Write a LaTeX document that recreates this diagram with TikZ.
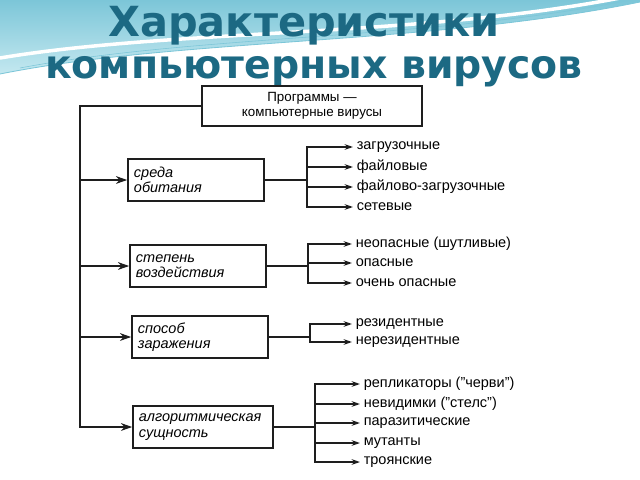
\documentclass[tikz,border=0pt]{standalone}
\usepackage{fontspec}
\setmainfont{Liberation Sans}
\newfontfamily\titlefont{DejaVu Sans}
\usepackage{tikz}
\usetikzlibrary{arrows.meta}
\usetikzlibrary{calc}
\definecolor{c_title}{HTML}{1C6983}
\definecolor{c_wave}{HTML}{C4E8F0}
\definecolor{c_wave_dark}{HTML}{7CC6D8}
\definecolor{c_ink}{HTML}{1E1E1E}

\tikzset{
  titletext/.style={anchor=base, inner sep=0pt, text=c_title, font=\titlefont\bfseries\fontsize{28}{30}\selectfont},
  rootbox/.style={draw=c_ink, line width=1.1pt, minimum width=5.5cm, minimum height=1cm, align=center, inner sep=2pt, font=\fontsize{9.5}{11}\selectfont},
  catbox/.style={draw=c_ink, line width=1.1pt, text width=3.1cm, inner xsep=0.15cm, align=left, minimum height=1.05cm, font=\itshape\fontsize{10.3}{11}\selectfont},
  itemtext/.style={anchor=west, inner xsep=2.5pt, inner ysep=1pt, font=\fontsize{10.3}{12}\selectfont},
  bigarr/.style={draw=c_ink, line width=1.1pt, -{Stealth[length=8pt,width=5.5pt]}},
  smallarr/.style={draw=c_ink, line width=1.1pt, -{Stealth[length=6pt,width=4pt]}}
}

\begin{document}
\begin{tikzpicture}[x=0.025cm,y=-0.025cm]
\useasboundingbox (0,0) rectangle (640,480);

% wave on top
\shade[top color=c_wave_dark, bottom color=c_wave] (0,0) -- (640,0) -- (640,2) .. controls (430,45) and (180,38) .. (0,74) -- cycle;
\draw[white, line width=2.5pt] (0,58) .. controls (180,28) and (430,38) .. (640,-6);
\draw[c_wave_dark, line width=0.6pt] (0,74) .. controls (180,38) and (430,45) .. (640,2);
\draw[c_wave_dark, line width=0.4pt] (20,68) .. controls (200,34) and (440,40) .. (640,-2);

% title
\node[titletext, font=\titlefont\bfseries\fontsize{29.5}{30}\selectfont] (t1) at (304,36) {Характеристики};
\node[titletext] (t2) at (314,78) {компьютерных вирусов};

% boxes
\node[rootbox] (root) at (312,106) {Программы —\\компьютерные вирусы};
\node[catbox] (habitat) at (196,180) {среда\\обитания};
\node[catbox] (impact) at (198,266) {степень\\воздействия};
\node[catbox] (infect) at (200,337) {способ\\заражения};
\node[catbox, text width=3.2cm] (algo) at (203,427) {алгоритмическая\\сущность};

% left spine
\coordinate (spine) at (80,0);
\draw[bigarr] (root.west) -| (spine |- algo.west) -- (algo.west);
\foreach \b in {habitat,impact,infect}
  \draw[bigarr] (spine |- \b.west) -- (\b.west);

% kinds
\foreach \n/\x/\y/\t in {h1/353/147/{загрузочные}, h2/353/167/{файловые}, h3/353/187/{файлово-загрузочные}, h4/353/207/{сетевые},
  d1/352/244/{неопасные (шутливые)}, d2/352/263/{опасные}, d3/352/283/{очень опасные},
  r1/352/324/{резидентные}, r2/352/342/{нерезидентные},
  a1/360/384/{репликаторы ("черви")}, a2/360/404/{невидимки ("стелс")}, a3/360/423/{паразитические}, a4/360/443/{мутанты}, a5/360/462/{троянские}}
  \node[itemtext] (\n) at (\x,\y) {\t};

% branches
\coordinate (bh) at (307,0);
\coordinate (bd) at (308,0);
\coordinate (br) at (310,0);
\coordinate (ba) at (315,0);
\foreach \n in {h1,h2,h3,h4}
  \draw[smallarr] (habitat.east) -- (bh |- habitat.east) |- (\n.west);
\foreach \n in {d1,d2,d3}
  \draw[smallarr] (impact.east) -- (bd |- impact.east) |- (\n.west);
\foreach \n in {r1,r2}
  \draw[smallarr] (infect.east) -- (br |- infect.east) |- (\n.west);
\foreach \n in {a1,a2,a3,a4,a5}
  \draw[smallarr] (algo.east) -- (ba |- algo.east) |- (\n.west);

\end{tikzpicture}
\end{document}
